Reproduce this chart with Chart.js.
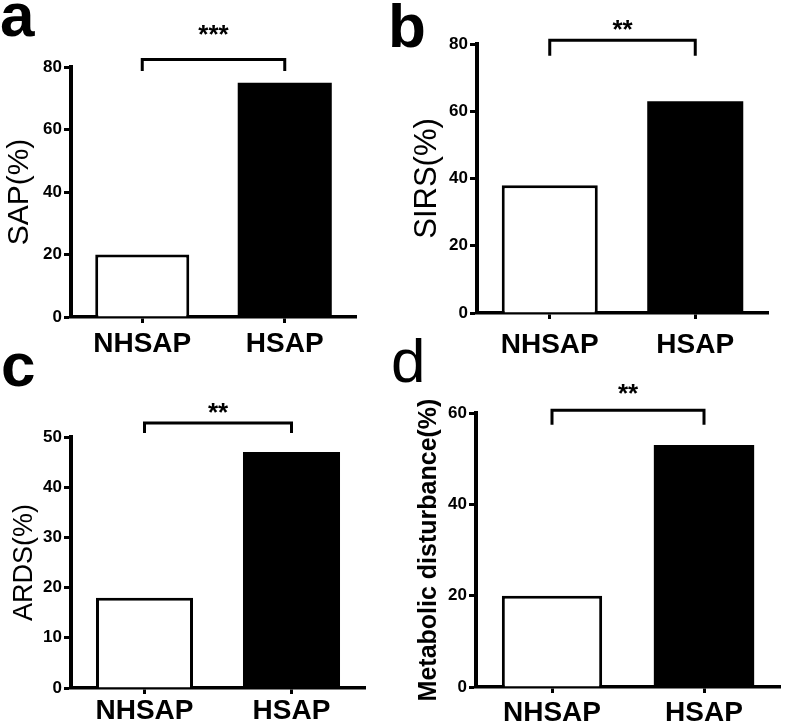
<!DOCTYPE html>
<html>
<head>
<meta charset="utf-8">
<script src="https://cdn.jsdelivr.net/npm/chart.js@4.4.0/dist/chart.umd.min.js"></script>
<style>
  html, body { margin: 0; padding: 0; background: #fff; }
  #wrap { position: relative; width: 787px; height: 725px; overflow: hidden; }
  #wrap canvas { position: absolute; }
</style>
</head>
<body>
<div id="wrap">
  <canvas id="chartA"></canvas>
  <canvas id="chartB"></canvas>
  <canvas id="chartC"></canvas>
  <canvas id="chartD"></canvas>
</div>
<script>
// data
const categories = ['NHSAP', 'HSAP'];
const sapValues = [20, 75];
const sirsValues = [38, 63];
const ardsValues = [18, 47];
const metabolicValues = [20, 53];

const yTitles = ['SAP(%)', 'SIRS(%)', 'ARDS(%)', 'Metabolic disturbance(%)'];
const yMaxValues = [80, 80, 50, 60];
const yStepValues = [20, 20, 10, 20];
const panelLetters = ['a', 'b', 'c', 'd'];
const starLabels = ['***', '**', '**', '**'];
// bracket top, bracket leg end, star level (data units)
const bracketTops = [82.4, 81.1, 52.8, 60.6];
const bracketLegs = [78.7, 76.5, 50.8, 57.4];
const starLevels = [92.4, 86.3, 56.1, 65.8];

const seriesList = [sapValues, sirsValues, ardsValues, metabolicValues];
const FONT = '"Liberation Sans", Arial, sans-serif';

// layout of each panel: canvas box [left, top, w, h], chart area [l, t, r, b] (page px)
const panels = [
  { id: 'chartA', box: [0, 0, 390, 360], area: [71, 67, 356, 317], labelPad: 4,
    title: { size: 30, weight: 'normal', pad: 2 }, letter: { x: 0, y: 36, weight: 'bold' } },
  { id: 'chartB', box: [390, 0, 397, 360], area: [477, 44, 768, 313], labelPad: 9,
    title: { size: 31, weight: 'normal', pad: 19 }, letter: { x: -2, y: 47, weight: 'bold' } },
  { id: 'chartC', box: [0, 325, 390, 400], area: [71, 437, 365, 688], labelPad: 0,
    title: { size: 27, weight: 'normal', pad: 8 }, letter: { x: 1, y: 61, weight: 'bold' } },
  { id: 'chartD', box: [390, 325, 397, 400], area: [476, 413, 780, 687], labelPad: 3,
    title: { size: 25, weight: 'bold', pad: 24 }, letter: { x: 1, y: 57, weight: 'normal' } }
];

// bracket + stars + panel letter
const bracketPlugin = {
  id: 'bracket',
  afterDraw(chart, args, opts) {
    const ctx = chart.ctx;
    const xs = chart.scales.x, ys = chart.scales.y;
    const x1 = xs.getPixelForValue(0), x2 = xs.getPixelForValue(1);
    const yt = ys.getPixelForValue(opts.top), yl = ys.getPixelForValue(opts.leg);
    ctx.save();
    ctx.strokeStyle = '#000';
    ctx.lineWidth = 3;
    ctx.beginPath();
    ctx.moveTo(x1, yl);
    ctx.lineTo(x1, yt);
    ctx.lineTo(x2, yt);
    ctx.lineTo(x2, yl);
    ctx.stroke();
    ctx.fillStyle = '#000';
    ctx.font = 'bold 26px ' + FONT;
    ctx.textAlign = 'center';
    ctx.textBaseline = 'alphabetic';
    ctx.fillText(opts.stars, (x1 + x2) / 2, ys.getPixelForValue(opts.starLevel) + 15);
    ctx.font = opts.letterWeight + ' 62px ' + FONT;
    ctx.textAlign = 'left';
    ctx.fillText(opts.letter, opts.letterX, opts.letterY);
    ctx.restore();
  }
};

panels.forEach((p, i) => {
  const canvas = document.getElementById(p.id);
  const [bl, bt, bw, bh] = p.box;
  const [al, at, ar, ab] = p.area;
  canvas.width = bw;
  canvas.height = bh;
  canvas.style.left = bl + 'px';
  canvas.style.top = bt + 'px';

  new Chart(canvas, {
    type: 'bar',
    data: {
      labels: categories,
      datasets: [{
        data: seriesList[i],
        backgroundColor: ['#ffffff', '#000000'],
        borderColor: '#000000',
        borderWidth: [3, 0],
        borderSkipped: 'bottom',
        barPercentage: 0.66,
        categoryPercentage: 1
      }]
    },
    options: {
      responsive: false,
      animation: false,
      devicePixelRatio: 1,
      layout: { padding: { top: at - bt, right: bl + bw - ar, left: 0, bottom: 0 } },
      plugins: {
        legend: { display: false },
        tooltip: { enabled: false },
        bracket: {
          top: bracketTops[i], leg: bracketLegs[i], starLevel: starLevels[i], stars: starLabels[i],
          letter: panelLetters[i], letterX: p.letter.x, letterY: p.letter.y, letterWeight: p.letter.weight
        }
      },
      scales: {
        x: {
          offset: true,
          grid: { display: true, drawOnChartArea: false, offset: false, tickLength: 6, tickWidth: 3, color: '#000' },
          border: { display: true, width: 3.5, color: '#000' },
          ticks: { color: '#000', padding: p.labelPad, maxRotation: 0, font: { family: FONT, size: 28, weight: 'bold' } },
          afterFit(s) { s.height = bt + bh - ab; }
        },
        y: {
          min: 0,
          max: yMaxValues[i],
          ticks: { stepSize: yStepValues[i], color: '#000', padding: 2, font: { family: FONT, size: 17, weight: 'bold' } },
          grid: { display: true, drawOnChartArea: false, tickLength: 7, tickWidth: 3, color: '#000' },
          border: { display: true, width: 4, color: '#000' },
          title: {
            display: true, text: yTitles[i], color: '#000',
            font: { family: FONT, size: p.title.size, weight: p.title.weight },
            padding: { top: p.title.pad, bottom: 0 }
          },
          afterFit(s) { s.width = al - bl; }
        }
      }
    },
    plugins: [bracketPlugin]
  });
});
</script>
</body>
</html>
